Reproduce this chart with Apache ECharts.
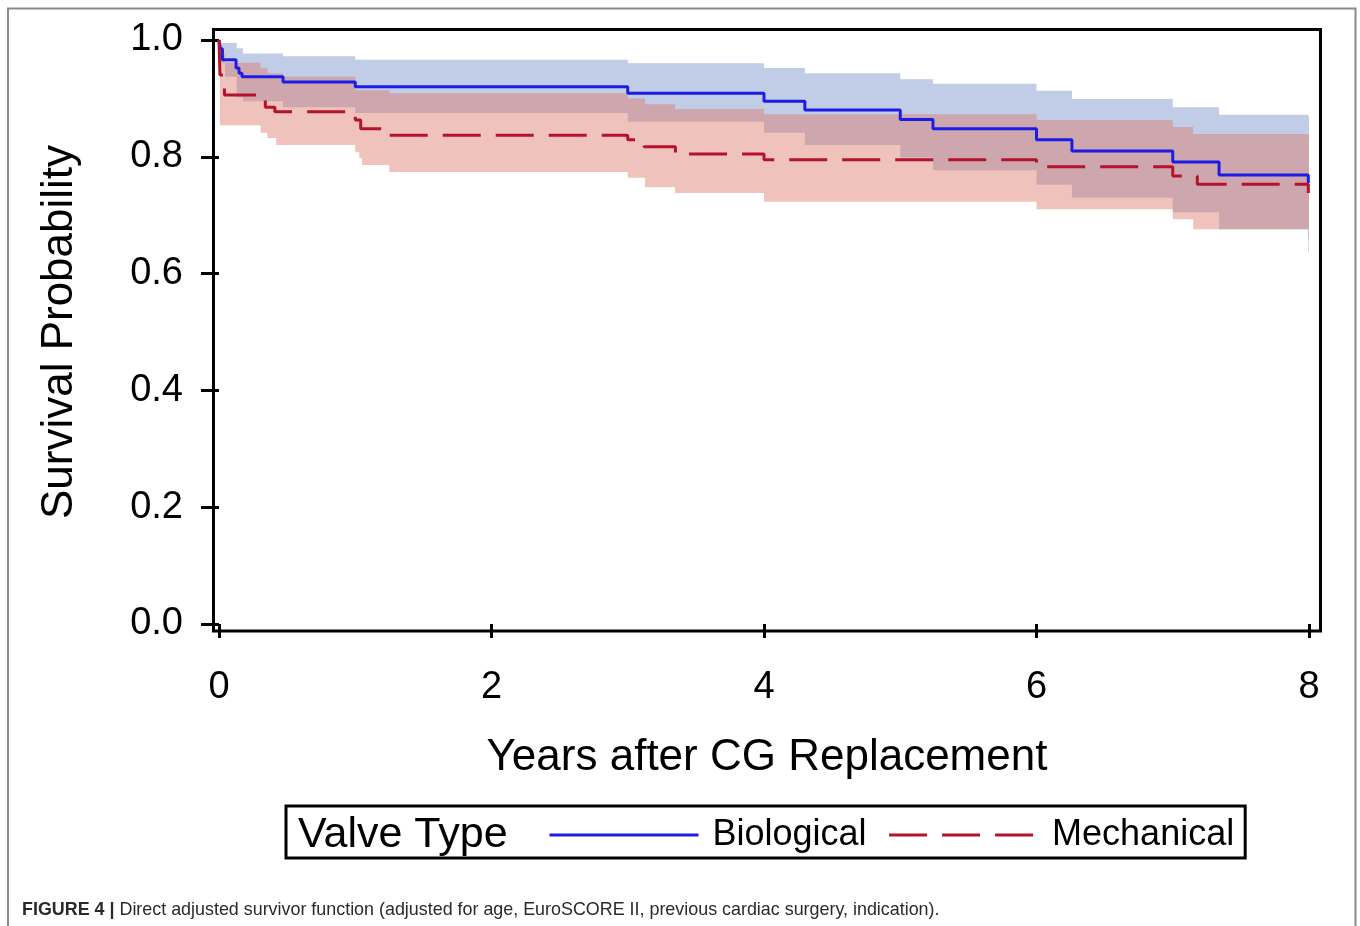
<!DOCTYPE html>
<html>
<head>
<meta charset="utf-8">
<script src="https://cdn.jsdelivr.net/npm/echarts@6/dist/echarts.min.js"></script>
<style>
html,body{margin:0;padding:0;background:#fff;}
#c{width:1360px;height:926px;}
</style>
</head>
<body>
<div id="c"></div>
<script>
// ---- data ----
const xTicks = [0, 2, 4, 6, 8];
const yTicks = [0.0, 0.2, 0.4, 0.6, 0.8, 1.0];

// Biological survival step function
const bioTimes = [0, 0.01, 0.025, 0.125, 0.147, 0.169, 0.47, 1.0, 3.0, 4.0, 4.3, 5.0, 5.24, 6.0, 6.26, 7.0, 7.34, 7.995, 8.0];
const bioSurv  = [1.0, 0.985, 0.966, 0.952, 0.943, 0.937, 0.928, 0.920, 0.909, 0.895, 0.880, 0.864, 0.848, 0.829, 0.810, 0.791, 0.769, 0.755, 0.755];

// Mechanical survival step function
const mechTimes = [0, 0.007, 0.04, 0.34, 0.41, 1.0, 1.04, 1.25, 3.0, 3.12, 3.35, 4.0, 6.0, 7.0, 7.18, 7.995, 8.0];
const mechSurv  = [1.0, 0.94, 0.906, 0.885, 0.877, 0.863, 0.848, 0.837, 0.829, 0.817, 0.805, 0.795, 0.783, 0.767, 0.753, 0.738, 0.738];

// Biological confidence band
const bioBandT  = [0, 0.01, 0.044, 0.13, 0.176, 0.47, 1.0, 3.0, 4.0, 4.3, 5.0, 5.24, 6.0, 6.26, 7.0, 7.34, 7.995, 8.0];
const bioBandHi = [1.0, 0.995, 0.995, 0.986, 0.977, 0.972, 0.966, 0.960, 0.952, 0.943, 0.933, 0.925, 0.913, 0.899, 0.885, 0.872, 0.870, 0.870];
const bioBandLo = [1.0, 0.960, 0.937, 0.902, 0.895, 0.885, 0.875, 0.860, 0.841, 0.820, 0.799, 0.777, 0.752, 0.730, 0.705, 0.676, 0.637, 0.637];

// Mechanical confidence band
const mechBandT  = [0, 0.007, 0.044, 0.305, 0.355, 0.42, 0.47, 1.0, 1.03, 1.05, 1.25, 3.0, 3.127, 3.347, 4.0, 6.0, 7.0, 7.15, 7.995, 8.0];
const mechBandHi = [1.0, 0.975, 0.961, 0.952, 0.943, 0.943, 0.937, 0.914, 0.914, 0.914, 0.909, 0.900, 0.890, 0.882, 0.873, 0.863, 0.851, 0.839, 0.839, 0.839];
const mechBandLo = [1.0, 0.854, 0.854, 0.841, 0.832, 0.820, 0.820, 0.808, 0.798, 0.786, 0.774, 0.764, 0.748, 0.738, 0.723, 0.710, 0.693, 0.676, 0.660, 0.660];

const seriesNames = ['Biological', 'Mechanical'];
const legendTitle = 'Valve Type';
const xTitle = 'Years after CG Replacement';
const yTitle = 'Survival Probability';
const captionBold = 'FIGURE 4 |';
const captionText = ' Direct adjusted survivor function (adjusted for age, EuroSCORE II, previous cardiac surgery, indication).';

// ---- helpers ----
function pairs(t, v) { return t.map((x, i) => [x, v[i]]); }
function bandRows(t, lo, hi) { return t.map((x, i) => [x, lo[i], hi[i]]); }
function makeBand(rows, fill, z) {
  return {
    type: 'custom',
    data: rows,
    encode: { x: 0, y: [1, 2] },
    z: z,
    silent: true,
    clip: true,
    renderItem: function (params, api) {
      if (params.dataIndex !== 0) return null;
      const pts = [];
      for (let i = 0; i < rows.length - 1; i++) {
        pts.push(api.coord([rows[i][0], rows[i][2]]));
        pts.push(api.coord([rows[i + 1][0], rows[i][2]]));
      }
      for (let i = rows.length - 2; i >= 0; i--) {
        pts.push(api.coord([rows[i + 1][0], rows[i][1]]));
        pts.push(api.coord([rows[i][0], rows[i][1]]));
      }
      return { type: 'polygon', shape: { points: pts }, style: { fill: fill } };
    }
  };
}

const FONT = '"Liberation Sans", Arial, Helvetica, sans-serif';
const chart = echarts.init(document.getElementById('c'), null, { renderer: 'canvas' });

chart.setOption({
  backgroundColor: '#ffffff',
  animation: false,
  textStyle: { fontFamily: FONT },
  grid: { left: 219, right: 51, top: 40, bottom: 302, outerBoundsMode: 'none', containLabel: false },
  xAxis: {
    type: 'value', min: xTicks[0], max: xTicks[xTicks.length - 1], interval: 2,
    offset: 7,
    axisLine: { show: false },
    axisTick: { show: true, length: 14, lineStyle: { color: '#000', width: 3 } },
    axisLabel: { show: true, margin: 38, fontSize: 38, color: '#000', fontFamily: FONT },
    splitLine: { show: false },
    name: xTitle, nameLocation: 'middle', nameGap: 105,
    nameTextStyle: { fontSize: 44, color: '#000', fontFamily: FONT, padding: [0, 0, 0, 6] }
  },
  yAxis: {
    type: 'value', min: yTicks[0], max: yTicks[yTicks.length - 1], interval: 0.2,
    offset: 6,
    axisLine: { show: false },
    axisTick: { show: true, length: 18, lineStyle: { color: '#000', width: 3 } },
    axisLabel: { show: true, margin: 30, fontSize: 38, color: '#000', fontFamily: FONT,
      formatter: v => v.toFixed(1) },
    splitLine: { show: false },
    name: yTitle, nameLocation: 'middle', nameGap: 131, nameRotate: 90,
    nameTextStyle: { fontSize: 44, color: '#000', fontFamily: FONT }
  },
  legend: {
    data: seriesNames,
    left: 286, top: 806,
    orient: 'horizontal',
    padding: [7, 11, 1, 262],
    borderColor: '#000', borderWidth: 3,
    itemWidth: 149, itemHeight: 14, itemGap: 21,
    itemStyle: { opacity: 0 },
    lineStyle: { width: 3 },
    textStyle: { fontSize: 36, color: '#000', fontFamily: FONT, lineHeight: 40, padding: [4, 0, 0, 9] },
    selectedMode: false
  },
  graphic: [
    { type: 'rect', z: 100, silent: true,
      shape: { x: 213.5, y: 29.5, width: 1107, height: 601.5 },
      style: { fill: 'none', stroke: '#000', lineWidth: 3 } },
    { type: 'rect', z: 100, silent: true,
      shape: { x: 8, y: 8.5, width: 1347.5, height: 940 },
      style: { fill: 'none', stroke: '#8a8a8a', lineWidth: 2 } },
    { type: 'text', z: 100, left: 298, top: 810, silent: true,
      style: { text: legendTitle, fontSize: 43, fill: '#000', fontFamily: FONT, lineHeight: 50 } },
    { type: 'text', z: 100, left: 22, top: 901, silent: true,
      style: { text: '{b|' + captionBold + '}{n|' + captionText + '}',
        rich: {
          b: { fontSize: 17.9, fontWeight: 'bold', fill: '#2a2a2a', fontFamily: FONT },
          n: { fontSize: 17.9, fill: '#2a2a2a', fontFamily: FONT }
        } } }
  ],
  series: [
    makeBand(bandRows(bioBandT, bioBandLo, bioBandHi), 'rgba(124,149,202,0.47)', 1),
    makeBand(bandRows(mechBandT, mechBandLo, mechBandHi), 'rgba(222,126,111,0.47)', 2),
    {
      name: seriesNames[0], type: 'line', step: 'end', symbol: 'none', z: 5,
      data: pairs(bioTimes, bioSurv),
      lineStyle: { color: '#1c1ce6', width: 3, type: 'solid' },
      itemStyle: { color: '#1c1ce6' }
    },
    {
      name: seriesNames[1], type: 'line', step: 'end', symbol: 'none', z: 6,
      data: pairs(mechTimes, mechSurv),
      lineStyle: { color: '#b5122b', width: 3, type: [38, 15] },
      itemStyle: { color: '#b5122b' }
    }
  ]
});
</script>
</body>
</html>
